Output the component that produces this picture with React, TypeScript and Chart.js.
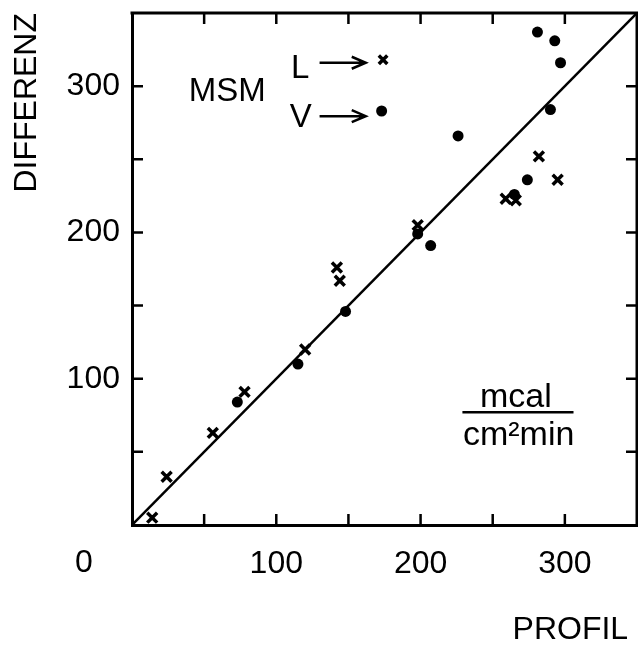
import React, { useEffect, useRef } from "react";
import { Chart, registerables } from "chart.js";

Chart.register(...registerables);

// L series (crosses)
const profilL = [14, 24, 56, 78, 120, 142, 144, 198, 259, 266, 282, 295];
const differenzL = [5, 33, 63, 91, 120, 176, 167, 205, 223, 222, 252, 236];
// V series (dots)
const profilV = [73, 115, 148, 198, 207, 226, 265, 274, 281, 293, 297, 290];
const differenzV = [84, 110, 146, 199, 191, 266, 226, 236, 337, 331, 316, 284];
// legend key markers
const keyL = [{ x: 174, y: 318 }];
const keyV = [{ x: 173, y: 283 }];
// identity line
const lineProfil = [0, 350];
const lineDifferenz = [0, 350];
// ticks
const xTickLabels = [100, 200, 300];
const yTickLabels = [100, 200, 300];
const tickMarks = [50, 100, 150, 200, 250, 300];
const axisMin = 0;
const axisMax = 350;

const FONT = '"Liberation Sans", Arial, sans-serif';

const overlay = {
  id: "overlay",
  afterDraw(chart: any) {
    const { ctx, chartArea: a, scales } = chart;
    const x = scales.x;
    const y = scales.y;
    const X = (v: number) => x.getPixelForValue(v);
    const Y = (v: number) => y.getPixelForValue(v);
    ctx.save();
    ctx.strokeStyle = "#000";
    ctx.fillStyle = "#000";
    // frame top & right
    ctx.lineWidth = 3;
    ctx.beginPath();
    ctx.moveTo(a.left - 1.5, a.top);
    ctx.lineTo(a.right, a.top);
    ctx.lineTo(a.right, a.bottom + 1.5);
    ctx.stroke();
    // inward tick marks
    ctx.lineWidth = 2.5;
    ctx.beginPath();
    for (const v of tickMarks) {
      const px = X(v);
      ctx.moveTo(px, a.bottom);
      ctx.lineTo(px, a.bottom - 11);
      ctx.moveTo(px, a.top);
      ctx.lineTo(px, a.top + 11);
      const py = Y(v);
      ctx.moveTo(a.left, py);
      ctx.lineTo(a.left + 11, py);
      ctx.moveTo(a.right, py);
      ctx.lineTo(a.right - 11, py);
    }
    ctx.stroke();

    // origin label
    ctx.font = `32px ${FONT}`;
    ctx.textAlign = "center";
    ctx.textBaseline = "middle";
    ctx.fillText("0", X(0) - 48, a.bottom + 38);

    // MSM
    ctx.font = `33px ${FONT}`;
    ctx.fillText("MSM", X(66), Y(296));
    // L / V
    ctx.fillText("L", X(116.5), Y(312));
    ctx.fillText("V", X(117), Y(278));

    // arrows
    const arrow = (x0: number, x1: number, yv: number) => {
      const py = Y(yv);
      const p0 = X(x0);
      const p1 = X(x1);
      ctx.lineWidth = 2.5;
      ctx.beginPath();
      ctx.moveTo(p0, py);
      ctx.lineTo(p1, py);
      ctx.moveTo(p1 - 14, py - 6);
      ctx.lineTo(p1, py);
      ctx.lineTo(p1 - 14, py + 6);
      ctx.stroke();
    };
    arrow(130, 162, 316);
    arrow(130, 162, 279.5);

    // units fraction
    ctx.font = `34px ${FONT}`;
    ctx.fillText("mcal", X(266), Y(87));
    ctx.fillText("cm²min", X(268), Y(61));
    ctx.lineWidth = 2.5;
    ctx.beginPath();
    ctx.moveTo(X(229), Y(77));
    ctx.lineTo(X(306), Y(77));
    ctx.stroke();
    ctx.restore();
  },
};

const zeroPad = (s: any) => {
  s.paddingTop = 0;
  s.paddingBottom = 0;
  s.paddingLeft = 0;
  s.paddingRight = 0;
};

export default function App() {
  const ref = useRef<HTMLCanvasElement | null>(null);
  useEffect(() => {
    if (!ref.current) return;
    const chart = new Chart(ref.current, {
      type: "scatter",
      data: {
        datasets: [
          {
            type: "line",
            label: "Profil = Differenz",
            data: lineProfil.map((v, i) => ({ x: v, y: lineDifferenz[i] })),
            borderColor: "#000",
            borderWidth: 2.5,
            pointRadius: 0,
            fill: false,
          } as any,
          {
            label: "L",
            data: profilL.map((v, i) => ({ x: v, y: differenzL[i] })),
            pointStyle: "crossRot",
            pointRadius: 7,
            borderColor: "#000",
            borderWidth: 3.5,
          },
          {
            label: "V",
            data: profilV.map((v, i) => ({ x: v, y: differenzV[i] })),
            pointStyle: "circle",
            pointRadius: 5.5,
            backgroundColor: "#000",
            borderColor: "#000",
            borderWidth: 0,
          },
          {
            label: "L key",
            data: keyL,
            pointStyle: "crossRot",
            pointRadius: 6,
            borderColor: "#000",
            borderWidth: 3.5,
          },
          {
            label: "V key",
            data: keyV,
            pointStyle: "circle",
            pointRadius: 5.5,
            backgroundColor: "#000",
            borderColor: "#000",
            borderWidth: 0,
          },
        ],
      },
      options: {
        responsive: false,
        animation: false,
        events: [],
        layout: { autoPadding: false, padding: { top: 13, right: 1, left: 0, bottom: 0 } },
        plugins: { legend: { display: false }, tooltip: { enabled: false } },
        scales: {
          x: {
            type: "linear",
            min: axisMin,
            max: axisMax,
            afterBuildTicks: (s: any) => {
              s.ticks = xTickLabels.map((v) => ({ value: v }));
            },
            afterFit: (s: any) => {
              s.height = 121;
              zeroPad(s);
            },
            grid: { display: false, drawTicks: false },
            border: { display: true, width: 3, color: "#000" },
            ticks: {
              color: "#000",
              padding: 20,
              maxRotation: 0,
              font: { family: FONT, size: 32 },
              callback: (v: any) => String(v),
            },
            title: {
              display: true,
              text: "PROFIL ",
              align: "end",
              color: "#000",
              font: { family: FONT, size: 32, lineHeight: 1.2 },
              padding: { top: 0, bottom: -3 },
            },
          },
          y: {
            type: "linear",
            min: axisMin,
            max: axisMax,
            afterBuildTicks: (s: any) => {
              s.ticks = yTickLabels.map((v) => ({ value: v }));
            },
            afterFit: (s: any) => {
              s.width = 132;
              zeroPad(s);
            },
            grid: { display: false, drawTicks: false },
            border: { display: true, width: 3, color: "#000" },
            ticks: {
              color: "#000",
              padding: 12,
              font: { family: FONT, size: 32 },
              callback: (v: any) => String(v),
            },
            title: {
              display: true,
              text: "DIFFERENZ",
              align: "end",
              color: "#000",
              font: { family: FONT, size: 32, lineHeight: 1.2 },
              padding: { top: 8, bottom: 0 },
            },
          },
        },
      },
      plugins: [overlay],
    });
    return () => chart.destroy();
  }, []);
  return (
    <div style={{ position: "fixed", left: 0, top: 0, width: 638, height: 646, background: "#fff" }}>
      <canvas ref={ref} width={638} height={646} style={{ display: "block" }} />
    </div>
  );
}
